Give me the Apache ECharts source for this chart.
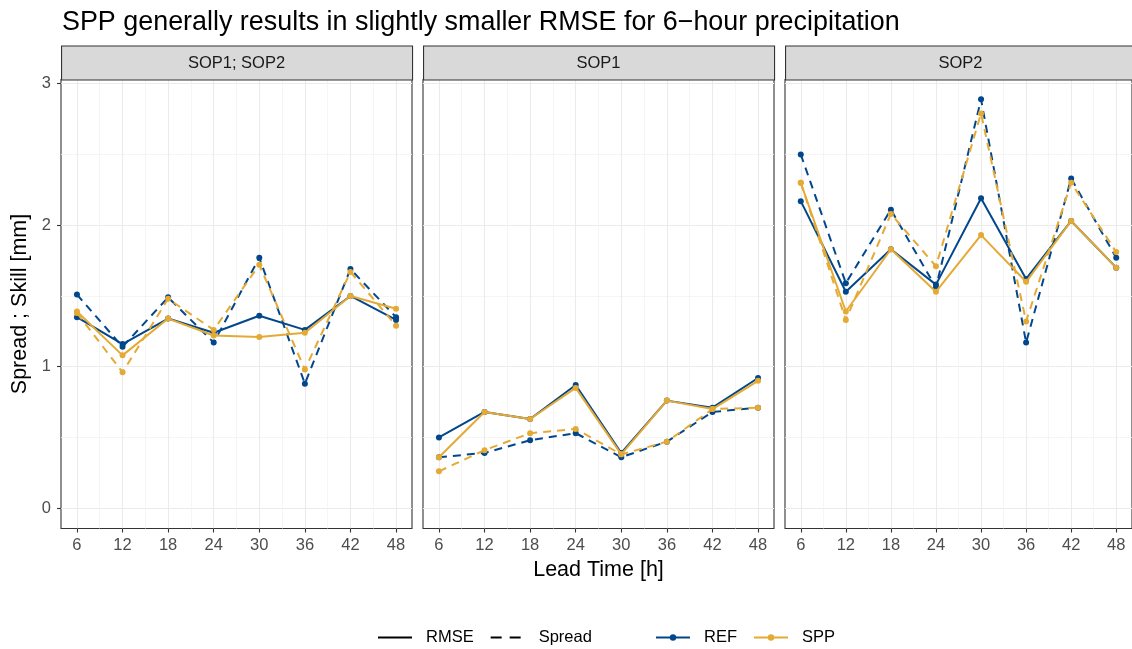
<!DOCTYPE html>
<html>
<head>
<meta charset="utf-8">
<script src="https://cdn.jsdelivr.net/npm/echarts@6/dist/echarts.min.js"></script>
<style>
html,body{margin:0;padding:0;background:#fff;}
#chart{width:1132px;height:649px;}
</style>
</head>
<body>
<div id="chart"></div>
<script>
// ---- data ----
const leadTimes = [6, 12, 18, 24, 30, 36, 42, 48];
const xMinorTicks = [9, 15, 21, 27, 33, 39, 45];
const yTicks = [0, 1, 2, 3];
const yMinorTicks = [0.5, 1.5, 2.5];
const facets = ['SOP1; SOP2', 'SOP1', 'SOP2'];

// SOP1; SOP2
const refRmseBoth   = [1.35, 1.16, 1.34, 1.24, 1.36, 1.26, 1.50, 1.33];
const refSpreadBoth = [1.51, 1.14, 1.49, 1.17, 1.77, 0.88, 1.69, 1.35];
const sppRmseBoth   = [1.39, 1.08, 1.34, 1.22, 1.21, 1.24, 1.50, 1.41];
const sppSpreadBoth = [1.38, 0.96, 1.48, 1.26, 1.72, 0.98, 1.67, 1.29];
// SOP1
const refRmseSop1   = [0.50, 0.68, 0.63, 0.87, 0.39, 0.76, 0.71, 0.92];
const refSpreadSop1 = [0.36, 0.39, 0.48, 0.53, 0.36, 0.47, 0.68, 0.71];
const sppRmseSop1   = [0.36, 0.68, 0.63, 0.85, 0.38, 0.76, 0.70, 0.90];
const sppSpreadSop1 = [0.26, 0.41, 0.53, 0.56, 0.38, 0.47, 0.70, 0.71];
// SOP2
const refRmseSop2   = [2.17, 1.53, 1.83, 1.58, 2.19, 1.62, 2.03, 1.70];
const refSpreadSop2 = [2.50, 1.59, 2.11, 1.56, 2.89, 1.17, 2.33, 1.77];
const sppRmseSop2   = [2.30, 1.39, 1.83, 1.53, 1.93, 1.60, 2.03, 1.70];
const sppSpreadSop2 = [2.30, 1.33, 2.08, 1.71, 2.79, 1.32, 2.30, 1.81];

const panelData = [
  {refRmse: refRmseBoth, refSpread: refSpreadBoth, sppRmse: sppRmseBoth, sppSpread: sppSpreadBoth},
  {refRmse: refRmseSop1, refSpread: refSpreadSop1, sppRmse: sppRmseSop1, sppSpread: sppSpreadSop1},
  {refRmse: refRmseSop2, refSpread: refSpreadSop2, sppRmse: sppRmseSop2, sppSpread: sppSpreadSop2}
];

// ---- style / layout ----
const FONT = 'Liberation Sans, Arial, Helvetica, sans-serif';
const BLUE = '#02478C';
const GOLD = '#E4AA33';
const panelLefts = [61, 423, 785];
const panelW = 351;
const panelTop = 79.5;
const panelH = 449;
const stripTop = 45.5;
const stripH = 34;
const xMin = 3.9, xMax = 50.1;
const yMin = -0.144, yMax = 3.03;

const grids = [], xAxes = [], yAxes = [], series = [], graphics = [];

function pairs(arr) { return leadTimes.map((t, i) => [t, arr[i]]); }

facets.forEach((name, p) => {
  grids.push({left: panelLefts[p], top: panelTop, width: panelW, height: panelH,
    show: true, borderColor: '#333333', borderWidth: 1.1, backgroundColor: '#ffffff', containLabel: false});
  // major x
  xAxes.push({type: 'value', gridIndex: p, min: xMin, max: xMax, position: 'bottom',
    axisLine: {show: false, onZero: false},
    axisTick: {show: true, customValues: leadTimes, length: 4, lineStyle: {color: '#333333', width: 1.1}},
    axisLabel: {show: true, customValues: leadTimes, color: '#4D4D4D', fontSize: 16.5, fontFamily: FONT, margin: 8},
    splitLine: {show: true, lineStyle: {color: '#EBEBEB', width: 1.1}},
    name: p === 1 ? 'Lead Time [h]' : '', nameLocation: 'middle', nameGap: 31,
    nameTextStyle: {color: '#000', fontSize: 21.5, fontFamily: FONT}
  });
  // minor x
  xAxes.push({type: 'value', gridIndex: p, min: xMin, max: xMax, position: 'bottom',
    axisLine: {show: false, onZero: false},
    axisTick: {show: false, customValues: xMinorTicks},
    axisLabel: {show: false, customValues: xMinorTicks},
    splitLine: {show: true, lineStyle: {color: '#F2F2F2', width: 0.8}}
  });
  // major y
  yAxes.push({type: 'value', gridIndex: p, min: yMin, max: yMax, position: 'left',
    axisLine: {show: false, onZero: false},
    axisTick: {show: p === 0, customValues: yTicks, length: 4, lineStyle: {color: '#333333', width: 1.1}},
    axisLabel: {show: p === 0, customValues: yTicks, color: '#4D4D4D', fontSize: 16.5, fontFamily: FONT, margin: 10},
    splitLine: {show: true, lineStyle: {color: '#EBEBEB', width: 1.1}},
    name: p === 0 ? 'Spread ; Skill [mm]' : '', nameLocation: 'middle', nameGap: 30, nameRotate: 90,
    nameTextStyle: {color: '#000', fontSize: 21.5, fontFamily: FONT}
  });
  // minor y
  yAxes.push({type: 'value', gridIndex: p, min: yMin, max: yMax, position: 'left',
    axisLine: {show: false, onZero: false},
    axisTick: {show: false, customValues: yMinorTicks},
    axisLabel: {show: false, customValues: yMinorTicks},
    splitLine: {show: true, lineStyle: {color: '#F2F2F2', width: 0.8}}
  });

  const d = panelData[p];
  const defs = [
    {key: 'refRmse', color: BLUE, dash: 'solid', n: 'REF RMSE'},
    {key: 'refSpread', color: BLUE, dash: [8, 6], n: 'REF Spread'},
    {key: 'sppRmse', color: GOLD, dash: 'solid', n: 'SPP RMSE'},
    {key: 'sppSpread', color: GOLD, dash: [8, 6], n: 'SPP Spread'}
  ];
  defs.forEach((s, k) => {
    series.push({type: 'line', name: s.n + ' ' + name, xAxisIndex: p * 2, yAxisIndex: p * 2,
      data: pairs(d[s.key]), symbol: 'circle', symbolSize: 6, showSymbol: true,
      color: s.color, itemStyle: {color: s.color},
      lineStyle: {color: s.color, width: 2, type: s.dash},
      silent: true, animation: false, z: 2 + k});
  });

  graphics.push({type: 'rect', left: panelLefts[p], top: stripTop,
    shape: {width: panelW, height: stripH},
    style: {fill: '#D9D9D9', stroke: '#333333', lineWidth: 1.1}, z: 10});
  graphics.push({type: 'text', x: panelLefts[p] + panelW / 2, y: stripTop + stripH / 2 + 0.5,
    style: {text: name, fill: '#1A1A1A', font: '16.5px ' + FONT, textAlign: 'center', textVerticalAlign: 'middle'}, z: 11});
});

// legend-only series
const legendSeries = [
  {name: 'RMSE', color: '#000000', type: 'solid', symbol: 'none'},
  {name: 'Spread', color: '#000000', type: [11, 8], symbol: 'none'},
  {name: 'REF', color: BLUE, type: 'solid', symbol: 'circle'},
  {name: 'SPP', color: GOLD, type: 'solid', symbol: 'circle'}
];
legendSeries.forEach(s => {
  series.push({type: 'line', name: s.name, data: [], xAxisIndex: 0, yAxisIndex: 0,
    symbol: s.symbol, symbolSize: 6, color: s.color, itemStyle: {color: s.color},
    lineStyle: {color: s.color, width: 2, type: s.type}});
});

const legendCommon = {orient: 'horizontal', top: 624, itemWidth: 34, itemHeight: 8, itemGap: 16,
  textStyle: {color: '#000', fontSize: 16.5, fontFamily: FONT, padding: [0, 0, 0, 9]},
  selectedMode: false};

const option = {
  animation: false,
  backgroundColor: '#ffffff',
  title: {text: 'SPP generally results in slightly smaller RMSE for 6\u2212hour precipitation',
    left: 57, top: 4, textStyle: {color: '#000', fontSize: 26.9, fontWeight: 'normal', fontFamily: FONT}},
  grid: grids,
  xAxis: xAxes,
  yAxis: yAxes,
  legend: [
    Object.assign({}, legendCommon, {left: 372, data: [
      {name: 'RMSE', itemStyle: {color: 'rgba(0,0,0,0)', borderWidth: 0}},
      {name: 'Spread', itemStyle: {color: 'rgba(0,0,0,0)', borderWidth: 0}}
    ]}),
    Object.assign({}, legendCommon, {left: 650, data: ['REF', 'SPP']})
  ],
  series: series,
  graphic: graphics
};

const chart = echarts.init(document.getElementById('chart'), null, {renderer: 'canvas'});
chart.setOption(option);
</script>
</body>
</html>
